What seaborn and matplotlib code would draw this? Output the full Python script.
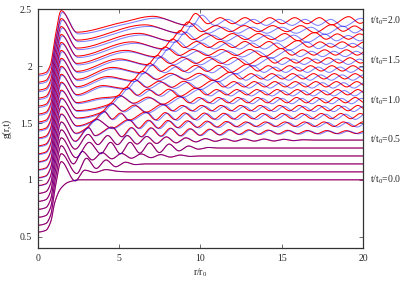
import numpy as np
import pandas as pd
import matplotlib
matplotlib.use("Agg")
import matplotlib.pyplot as plt
import seaborn as sns

# ---------------------------------------------------------
# data: knots (r/r0, g - offset) per curve
# ---------------------------------------------------------
t_values = [round(0.1 * i, 1) for i in range(21)]
curve_step = 0.07
labelled_t = [0.0, 0.5, 1.0, 1.5, 2.0]
x_ticks = [0, 5, 10, 15, 20]
y_ticks = [0.5, 1.0, 1.5, 2.0, 2.5]
y_tick_labels = ["0.5", "1", "1.5", "2", "2.5"]

knots_t00 = [(0.0, -0.46), (0.5, -0.445), (0.8, -0.37), (1.05, -0.2), (1.4, -0.08),
             (1.9, -0.02), (2.6, 0.0), (20.0, 0.0)]

near_field = [(0.0, -0.47), (0.5, -0.455), (0.8, -0.38), (1.05, -0.16), (1.45, 0.09)]

far_t01 = [(2.3, -0.08), (2.9, 0.015), (3.5, -0.005), (4.2, 0.02), (4.9, 0.005), (5.6, 0.0), (20.0, 0.0)]
far_t02 = [(2.4, -0.085), (3.0, 0.05), (3.6, -0.04), (4.2, 0.035), (4.8, -0.025), (5.4, 0.015),
           (6.0, -0.006), (6.6, 0.0), (20.0, 0.0)]
far_t03 = [(2.2, -0.07), (2.75, 0.04), (3.36, -0.035), (3.96, 0.03), (4.56, -0.025), (5.16, 0.022),
           (5.76, -0.02), (6.36, 0.018), (6.96, -0.015), (7.56, 0.012), (8.16, -0.01), (8.76, 0.008),
           (9.36, -0.004), (9.9, 0.0), (20.0, 0.0)]
far_t04 = [(2.35, -0.085), (3.17, 0.05), (3.88, -0.05), (4.48, 0.05), (5.08, -0.05), (5.68, 0.05),
           (6.28, -0.045), (6.88, 0.045), (7.48, -0.04), (8.08, 0.035), (8.68, -0.025), (9.28, 0.018),
           (9.88, -0.01), (10.48, 0.005), (11.1, 0.0), (20.0, 0.0)]
far_t05 = [(2.3, -0.08), (3.1, 0.05), (3.7, -0.04), (4.3, 0.04), (4.9, -0.04), (5.5, 0.04),
           (6.1, -0.035), (6.7, 0.032), (7.3, -0.03), (7.9, 0.028), (8.5, -0.025), (9.1, 0.02),
           (9.7, -0.016), (10.3, 0.013), (10.9, -0.011), (11.5, 0.01), (12.1, -0.01), (12.7, 0.01),
           (13.3, -0.009), (13.9, 0.009), (14.5, -0.008), (15.1, 0.007), (15.7, -0.005),
           (16.3, 0.003), (17.0, 0.0), (20.0, 0.0)]
far_t06 = [(2.3, -0.08), (3.12, 0.04), (3.52, -0.03), (4.56, 0.045), (5.16, -0.04), (5.76, 0.04),
           (6.36, -0.04), (6.96, 0.038), (7.56, -0.035), (8.16, 0.035), (8.76, -0.032), (9.36, 0.03),
           (9.96, -0.028), (10.56, 0.026), (11.16, -0.024), (11.76, 0.022), (12.36, -0.02),
           (12.96, 0.02), (13.56, -0.018), (14.16, 0.018), (14.76, -0.016), (15.36, 0.016),
           (15.96, -0.015), (16.56, 0.015), (17.16, -0.014), (17.76, 0.014), (18.36, -0.013),
           (18.96, 0.013), (19.56, -0.012), (20.16, 0.012)]
far_t07 = [(2.35, -0.08), (2.99, -0.035), (3.59, 0.045), (4.56, -0.035), (5.6, 0.04), (6.2, -0.035),
           (6.8, 0.035), (7.4, -0.035), (8.0, 0.033), (8.6, -0.03), (9.2, 0.03), (9.8, -0.028),
           (10.4, 0.027), (11.0, -0.025), (11.6, 0.024), (12.2, -0.022), (12.8, 0.02), (13.4, -0.02),
           (14.0, 0.02), (14.6, -0.02), (15.2, 0.02), (15.8, -0.02), (16.4, 0.02), (17.0, -0.02),
           (17.6, 0.02), (18.2, -0.02), (18.8, 0.02), (19.4, -0.02), (20.0, 0.02)]
far_t08 = [(2.4, -0.085), (3.46, -0.035), (4.06, 0.045), (4.57, -0.025), (5.09, 0.028), (5.6, -0.035),
           (6.64, 0.037), (7.24, -0.032), (7.84, 0.032), (8.44, -0.03), (9.04, 0.03), (9.64, -0.028),
           (10.24, 0.028), (10.84, -0.026), (11.44, 0.026), (12.04, -0.025), (12.64, 0.025),
           (13.24, -0.023), (13.84, 0.024), (14.44, -0.022), (15.04, 0.024), (15.64, -0.022),
           (16.24, 0.024), (16.84, -0.022), (17.44, 0.024), (18.04, -0.022), (18.64, 0.024),
           (19.24, -0.022), (19.84, 0.024), (20.44, -0.022)]
far_t09 = [(2.4, -0.085), (3.93, -0.035), (4.53, 0.045), (5.23, -0.025), (5.94, 0.028), (6.64, -0.035),
           (7.68, 0.037), (8.28, -0.022), (8.88, 0.025), (9.48, -0.022), (10.08, 0.025), (10.68, -0.022),
           (11.28, 0.025), (11.88, -0.022), (12.48, 0.025), (13.08, -0.022), (13.68, 0.025),
           (14.28, -0.022), (14.88, 0.025), (15.48, -0.022), (16.08, 0.025), (16.68, -0.022),
           (17.28, 0.025), (17.88, -0.022), (18.48, 0.025), (19.08, -0.022), (19.68, 0.025),
           (20.28, -0.022)]
far_t10 = [(2.4, -0.09), (4.4, -0.035), (5.0, 0.045), (5.89, -0.025), (6.79, 0.028), (7.68, -0.035),
           (8.72, 0.037), (9.32, -0.022), (9.92, 0.025), (10.52, -0.022), (11.12, 0.025),
           (11.72, -0.022), (12.32, 0.025), (12.92, -0.022), (13.52, 0.025), (14.12, -0.022),
           (14.72, 0.025), (15.32, -0.022), (15.92, 0.025), (16.52, -0.022), (17.12, 0.025),
           (17.72, -0.022), (18.32, 0.025), (18.92, -0.022), (19.52, 0.025), (20.12, -0.022)]
far_t11 = [(2.4, -0.09), (3.8, -0.05), (4.87, -0.035), (5.47, 0.045), (6.12, -0.025), (6.77, 0.028),
           (7.42, -0.025), (8.07, 0.028), (8.72, -0.035), (9.76, 0.037), (10.38, -0.022),
           (11.0, 0.025), (11.62, -0.022), (12.24, 0.025), (12.86, -0.022), (13.48, 0.025),
           (14.1, -0.022), (14.72, 0.025), (15.34, -0.022), (15.96, 0.025), (16.58, -0.022),
           (17.2, 0.025), (17.82, -0.022), (18.44, 0.025), (19.06, -0.022), (19.68, 0.025),
           (20.3, -0.022)]
far_t12 = [(2.4, -0.09), (4.0, -0.01), (5.34, -0.035), (5.94, 0.045), (6.7, -0.025), (7.47, 0.028),
           (8.23, -0.025), (9.0, 0.028), (9.76, -0.035), (10.8, 0.037), (11.43, -0.022),
           (12.06, 0.025), (12.69, -0.022), (13.32, 0.025), (13.95, -0.022), (14.58, 0.025),
           (15.21, -0.022), (15.84, 0.025), (16.47, -0.022), (17.1, 0.025), (17.73, -0.022),
           (18.36, 0.025), (18.99, -0.022), (19.62, 0.025), (20.25, -0.022)]
far_t13 = [(2.4, -0.09), (4.3, 0.0), (5.81, -0.035), (6.41, 0.045), (7.29, -0.025), (8.17, 0.028),
           (9.05, -0.025), (9.92, 0.028), (10.8, -0.035), (11.84, 0.037), (12.48, -0.022),
           (13.12, 0.025), (13.76, -0.022), (14.4, 0.025), (15.04, -0.022), (15.68, 0.025),
           (16.32, -0.022), (16.96, 0.025), (17.6, -0.022), (18.24, 0.025), (18.88, -0.022),
           (19.52, 0.025), (20.16, -0.022)]
far_t14 = [(2.4, -0.095), (4.6, 0.01), (6.28, -0.035), (6.88, 0.045), (7.59, -0.025), (8.3, 0.028),
           (9.0, -0.025), (9.71, 0.028), (10.42, -0.025), (11.13, 0.028), (11.84, -0.035),
           (12.88, 0.037), (13.53, -0.022), (14.18, 0.025), (14.83, -0.022), (15.48, 0.025),
           (16.13, -0.022), (16.78, 0.025), (17.43, -0.022), (18.08, 0.025), (18.73, -0.022),
           (19.38, 0.025), (20.03, -0.022)]
far_t15 = [(2.4, -0.095), (5.0, 0.015), (6.75, -0.035), (7.35, 0.045), (8.14, -0.025), (8.93, 0.028),
           (9.72, -0.025), (10.51, 0.028), (11.3, -0.025), (12.09, 0.028), (12.88, -0.035),
           (13.92, 0.037), (14.58, -0.022), (15.24, 0.025), (15.9, -0.022), (16.56, 0.025),
           (17.22, -0.022), (17.88, 0.025), (18.54, -0.022), (19.2, 0.025), (19.86, -0.022),
           (20.52, 0.025)]
far_t16 = [(2.4, -0.095), (5.4, 0.02), (7.22, -0.035), (7.82, 0.05), (8.69, -0.025), (9.56, 0.028),
           (10.43, -0.025), (11.31, 0.028), (12.18, -0.025), (13.05, 0.028), (13.92, -0.035),
           (14.96, 0.037), (15.63, -0.022), (16.3, 0.025), (16.97, -0.022), (17.64, 0.025),
           (18.31, -0.022), (18.98, 0.025), (19.65, -0.022), (20.32, 0.025)]
far_t17 = [(2.4, -0.1), (5.8, 0.025), (7.69, -0.035), (8.29, 0.05), (9.03, -0.025), (9.77, 0.028),
           (10.51, -0.025), (11.26, 0.028), (12.0, -0.025), (12.74, 0.028), (13.48, -0.025),
           (14.22, 0.028), (14.96, -0.035), (16.0, 0.037), (16.68, -0.022), (17.36, 0.025),
           (18.04, -0.022), (18.72, 0.025), (19.4, -0.022), (20.08, 0.025)]
far_t18 = [(2.4, -0.1), (6.2, 0.03), (8.16, -0.035), (8.76, 0.055), (9.56, -0.025), (10.37, 0.028),
           (11.17, -0.025), (11.98, 0.028), (12.78, -0.025), (13.58, 0.028), (14.39, -0.025),
           (15.19, 0.028), (16.0, -0.035), (17.04, 0.037), (17.73, -0.022), (18.42, 0.025),
           (19.11, -0.022), (19.8, 0.025), (20.49, -0.022)]
far_t19 = [(2.4, -0.1), (6.6, 0.035), (8.63, -0.035), (9.23, 0.06), (10.1, -0.025), (10.97, 0.028),
           (11.83, -0.025), (12.7, 0.028), (13.57, -0.025), (14.44, 0.028), (15.31, -0.025),
           (16.17, 0.028), (17.04, -0.035), (18.08, 0.037), (18.78, -0.022), (19.48, 0.025),
           (20.18, -0.022)]
far_t20 = [(2.4, -0.1), (5.0, -0.02), (7.09, 0.04), (9.1, -0.035), (9.7, 0.065), (10.46, -0.025),
           (11.22, 0.028), (11.99, -0.025), (12.75, 0.028), (13.51, -0.025), (14.27, 0.028),
           (15.03, -0.025), (15.8, 0.028), (16.56, -0.025), (17.32, 0.028), (18.08, -0.035),
           (19.12, 0.037), (19.82, -0.022), (20.5, 0.025)]

far_parts = [far_t01, far_t02, far_t03, far_t04, far_t05, far_t06, far_t07, far_t08, far_t09,
             far_t10, far_t11, far_t12, far_t13, far_t14, far_t15, far_t16, far_t17, far_t18,
             far_t19, far_t20]

# blue curve: same shape, slightly stretched in r and lowered
blue_stretch = [1.0, 1.0, 1.0, 1.0, 1.0, 1.004, 1.008, 1.012, 1.015, 1.018, 1.02,
                1.022, 1.024, 1.026, 1.028, 1.03, 1.032, 1.034, 1.036, 1.038, 1.04]
blue_lift = [0.0, 0.0, 0.0, 0.0, 0.0, 0.0, -0.003, -0.005, -0.006, -0.007, -0.008,
             -0.009, -0.01, -0.011, -0.012, -0.012, -0.013, -0.013, -0.014, -0.014, -0.015]


def smooth(knots, n=14):
    # monotone cubic through the knots (like gnuplot "smooth")
    xs = np.array([k[0] for k in knots], dtype=float)
    ys = np.array([k[1] for k in knots], dtype=float)
    h = np.diff(xs)
    d = np.diff(ys) / h
    m = np.zeros_like(xs)
    for i in range(1, len(xs) - 1):
        if d[i - 1] * d[i] > 0:
            w1 = 2 * h[i] + h[i - 1]
            w2 = h[i] + 2 * h[i - 1]
            m[i] = (w1 + w2) / (w1 / d[i - 1] + w2 / d[i])
    xx, yy = [], []
    s = np.linspace(0, 1, n, endpoint=False)
    for i in range(len(h)):
        h00 = 2 * s**3 - 3 * s**2 + 1
        h10 = s**3 - 2 * s**2 + s
        h01 = -2 * s**3 + 3 * s**2
        h11 = s**3 - s**2
        xx.append(xs[i] + s * h[i])
        yy.append(h00 * ys[i] + h10 * h[i] * m[i] + h01 * ys[i + 1] + h11 * h[i] * m[i + 1])
    xx.append([xs[-1]])
    yy.append([ys[-1]])
    return np.concatenate(xx), np.concatenate(yy)


rows = []
for i, t in enumerate(t_values):
    knots = knots_t00 if i == 0 else near_field + far_parts[i - 1]
    r, dg = smooth(knots)
    g = 1.0 + curve_step * i + dg
    rows.append(pd.DataFrame({"r": r, "g": g, "t": t, "model": "red"}))
    rows.append(pd.DataFrame({"r": r * blue_stretch[i], "g": g + blue_lift[i], "t": t,
                              "model": "blue"}))
df = pd.concat(rows, ignore_index=True)

# ---------------------------------------------------------
# figure
# ---------------------------------------------------------
sns.set_theme(style="ticks")
plt.rcParams["font.family"] = ["Liberation Serif", "DejaVu Serif"]
plt.rcParams["mathtext.fontset"] = "custom"
plt.rcParams["mathtext.rm"] = "Liberation Serif"
plt.rcParams["mathtext.it"] = "Liberation Serif:italic"

fig = plt.figure(figsize=(4.07, 2.85), dpi=100)
ax = fig.add_axes([0.0926, 0.13, 0.7994, 0.8367])

sns.lineplot(data=df[df.model == "red"], x="r", y="g", units="t", estimator=None,
             sort=False, color="#ff0000", linewidth=0.75, ax=ax)
sns.lineplot(data=df[df.model == "blue"], x="r", y="g", units="t", estimator=None,
             sort=False, color="#0000ff", alpha=0.5, linewidth=0.75, ax=ax)

ax.set_xlim(0, 20)
ax.set_ylim(0.4, 2.5)
ax.set_xticks(x_ticks)
ax.set_xticklabels([str(v) for v in x_ticks])
ax.set_yticks(y_ticks)
ax.set_yticklabels(y_tick_labels)
ax.tick_params(direction="in", length=3, width=0.6, top=True, right=True,
               labelsize=7, pad=4, color="#555555")
for spine in ax.spines.values():
    spine.set_visible(True)
    spine.set_linewidth(0.9)
    spine.set_color("#333333")

ax.set_xlabel(r"r/r$_0$", fontsize=7, labelpad=3)
ax.set_ylabel("g(r,t)", fontsize=7, labelpad=6)

for t in labelled_t:
    i = t_values.index(t)
    ax.text(20.45, 1.0 + curve_step * i, r"t/t$_0$=" + f"{t:.1f}", fontsize=7,
            ha="left", va="center", clip_on=False)

fig.savefig("out.png", dpi=100)
